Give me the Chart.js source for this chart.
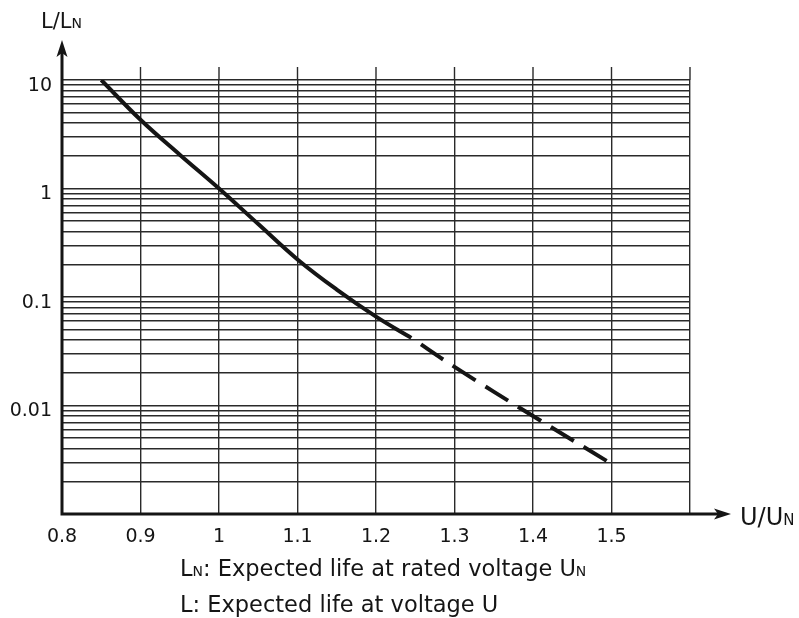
<!DOCTYPE html>
<html>
<head>
<meta charset="utf-8">
<script src="https://cdn.jsdelivr.net/npm/chart.js@4/dist/chart.umd.min.js"></script>
<style>
  html, body { margin: 0; padding: 0; background: #fff; }
  #wrap { width: 799px; height: 618px; }
</style>
</head>
<body>
<div id="wrap"><canvas id="lifeChart" width="799" height="618"></canvas></div>
<script>
// U/UN values and L/LN
const voltageSolid = [0.85, 0.9, 0.95, 1.0, 1.05, 1.1, 1.15, 1.2, 1.245];
const lifeSolid = [10, 4.3, 2.05, 1.0, 0.47, 0.222, 0.117, 0.066, 0.042];
const voltageDashed = [1.245, 1.3, 1.4, 1.5];
const lifeDashed = [0.042, 0.0227, 0.008, 0.0029];

const xTicks = [0.8, 0.9, 1.0, 1.1, 1.2, 1.3, 1.4, 1.5, 1.6];
const xTickLabels = ['0.8', '0.9', '1', '1.1', '1.2', '1.3', '1.4', '1.5', ''];
const yDecades = [0.001, 0.01, 0.1, 1, 10];
const yDecadeLabels = ['', '0.01', '0.1', '1', '10'];

const FONT = '"DejaVu Sans", sans-serif';
const INK = '#151515';

// minor log grid: 1..9 in every decade
const yTicks = [];
yDecades.forEach(function (d, i) {
    if (i === yDecades.length - 1) { yTicks.push(d); return; }
    for (let m = 1; m <= 9; m++) yTicks.push(+(d * m).toPrecision(3));
});

function toPoints(xs, ys) {
    return xs.map(function (x, i) { return { x: x, y: ys[i] }; });
}

// text with small-capital subscript N parts: [text, small]
function drawParts(ctx, parts, x, y, size, smallSize) {
    ctx.textBaseline = 'alphabetic';
    ctx.textAlign = 'left';
    parts.forEach(function (p) {
        ctx.font = (p[1] ? smallSize : size) + 'px ' + FONT;
        ctx.fillText(p[0], x, y);
        x += ctx.measureText(p[0]).width;
    });
}

const decorPlugin = {
    id: 'decor',
    afterDraw: function (chart) {
        const ctx = chart.ctx;
        const area = chart.chartArea;
        const xs = chart.scales.x;
        const left = area.left, bottom = area.bottom;
        ctx.save();

        // vertical grid lines run a bit above the top line
        ctx.strokeStyle = '#2a2a2a';
        ctx.lineWidth = 1.4;
        xTicks.forEach(function (v) {
            if (v === xTicks[0]) return;
            const px = xs.getPixelForValue(v);
            ctx.beginPath();
            ctx.moveTo(px, area.top);
            ctx.lineTo(px, area.top - 13);
            ctx.stroke();
        });

        // axis lines with arrows
        ctx.strokeStyle = INK;
        ctx.fillStyle = INK;
        ctx.lineWidth = 3;
        ctx.beginPath();
        ctx.moveTo(left, bottom + 1.5);
        ctx.lineTo(left, 52);
        ctx.moveTo(left - 1.5, bottom);
        ctx.lineTo(718, bottom);
        ctx.stroke();

        ctx.beginPath();
        ctx.moveTo(left, 40);
        ctx.lineTo(left + 5.5, 57);
        ctx.lineTo(left, 53);
        ctx.lineTo(left - 5.5, 57);
        ctx.closePath();
        ctx.fill();

        ctx.beginPath();
        ctx.moveTo(731, bottom);
        ctx.lineTo(714, bottom - 5.5);
        ctx.lineTo(718, bottom);
        ctx.lineTo(714, bottom + 5.5);
        ctx.closePath();
        ctx.fill();

        // axis titles
        drawParts(ctx, [['L/L', false], ['N', true]], 41, 28, 21, 14);
        drawParts(ctx, [['U/U', false], ['N', true]], 740, 525, 24, 15);

        // notes
        drawParts(ctx, [['L', false], ['N', true], [': Expected life at rated voltage U', false], ['N', true]], 180, 576, 22.5, 14);
        drawParts(ctx, [['L: Expected life at voltage U', false]], 180, 612, 22.5, 14);

        ctx.restore();
    }
};

const ctx = document.getElementById('lifeChart').getContext('2d');

const lifeChart = new Chart(ctx, {
    type: 'line',
    data: {
        datasets: [{
            label: 'Expected life',
            data: toPoints(voltageSolid, lifeSolid),
            borderColor: INK,
            borderWidth: 4,
            pointRadius: 0,
            tension: 0.4,
        }, {
            label: 'Expected life (extrapolated)',
            data: toPoints(voltageDashed, lifeDashed),
            borderColor: INK,
            borderWidth: 4,
            borderDash: [27, 11.5],
            borderDashOffset: 27,
            pointRadius: 0,
            tension: 0.4,
        }]
    },
    options: {
        responsive: false,
        animation: false,
        devicePixelRatio: 1,
        layout: { padding: { top: 80, right: 109, left: 0, bottom: 0 } },
        plugins: {
            legend: { display: false },
            tooltip: { enabled: false },
        },
        scales: {
            x: {
                type: 'linear',
                min: 0.8,
                max: 1.6,
                afterBuildTicks: function (scale) {
                    scale.ticks = xTicks.map(function (v) { return { value: v }; });
                },
                afterFit: function (scale) { scale.height = 104; },
                ticks: {
                    color: INK,
                    font: { family: FONT, size: 19 },
                    padding: 12,
                    maxRotation: 0,
                    autoSkip: false,
                    callback: function (v) {
                        const i = xTicks.findIndex(function (t) { return Math.abs(t - v) < 1e-6; });
                        return i >= 0 ? xTickLabels[i] : '';
                    }
                },
                grid: { color: '#2a2a2a', lineWidth: 1.4, drawTicks: false },
                border: { display: false },
            },
            y: {
                type: 'logarithmic',
                min: 0.001,
                max: 10,
                afterBuildTicks: function (scale) {
                    scale.ticks = yTicks.map(function (v) { return { value: v }; });
                },
                afterFit: function (scale) { scale.width = 62; },
                ticks: {
                    color: INK,
                    font: { family: FONT, size: 19 },
                    padding: 10,
                    labelOffset: 6,
                    autoSkip: false,
                    callback: function (v) {
                        const i = yDecades.findIndex(function (t) { return Math.abs(t - v) / t < 1e-6; });
                        return i >= 0 ? yDecadeLabels[i] : '';
                    }
                },
                grid: { color: '#2a2a2a', lineWidth: 1.4, drawTicks: false },
                border: { display: false },
            }
        }
    },
    plugins: [decorPlugin]
});
</script>
</body>
</html>
